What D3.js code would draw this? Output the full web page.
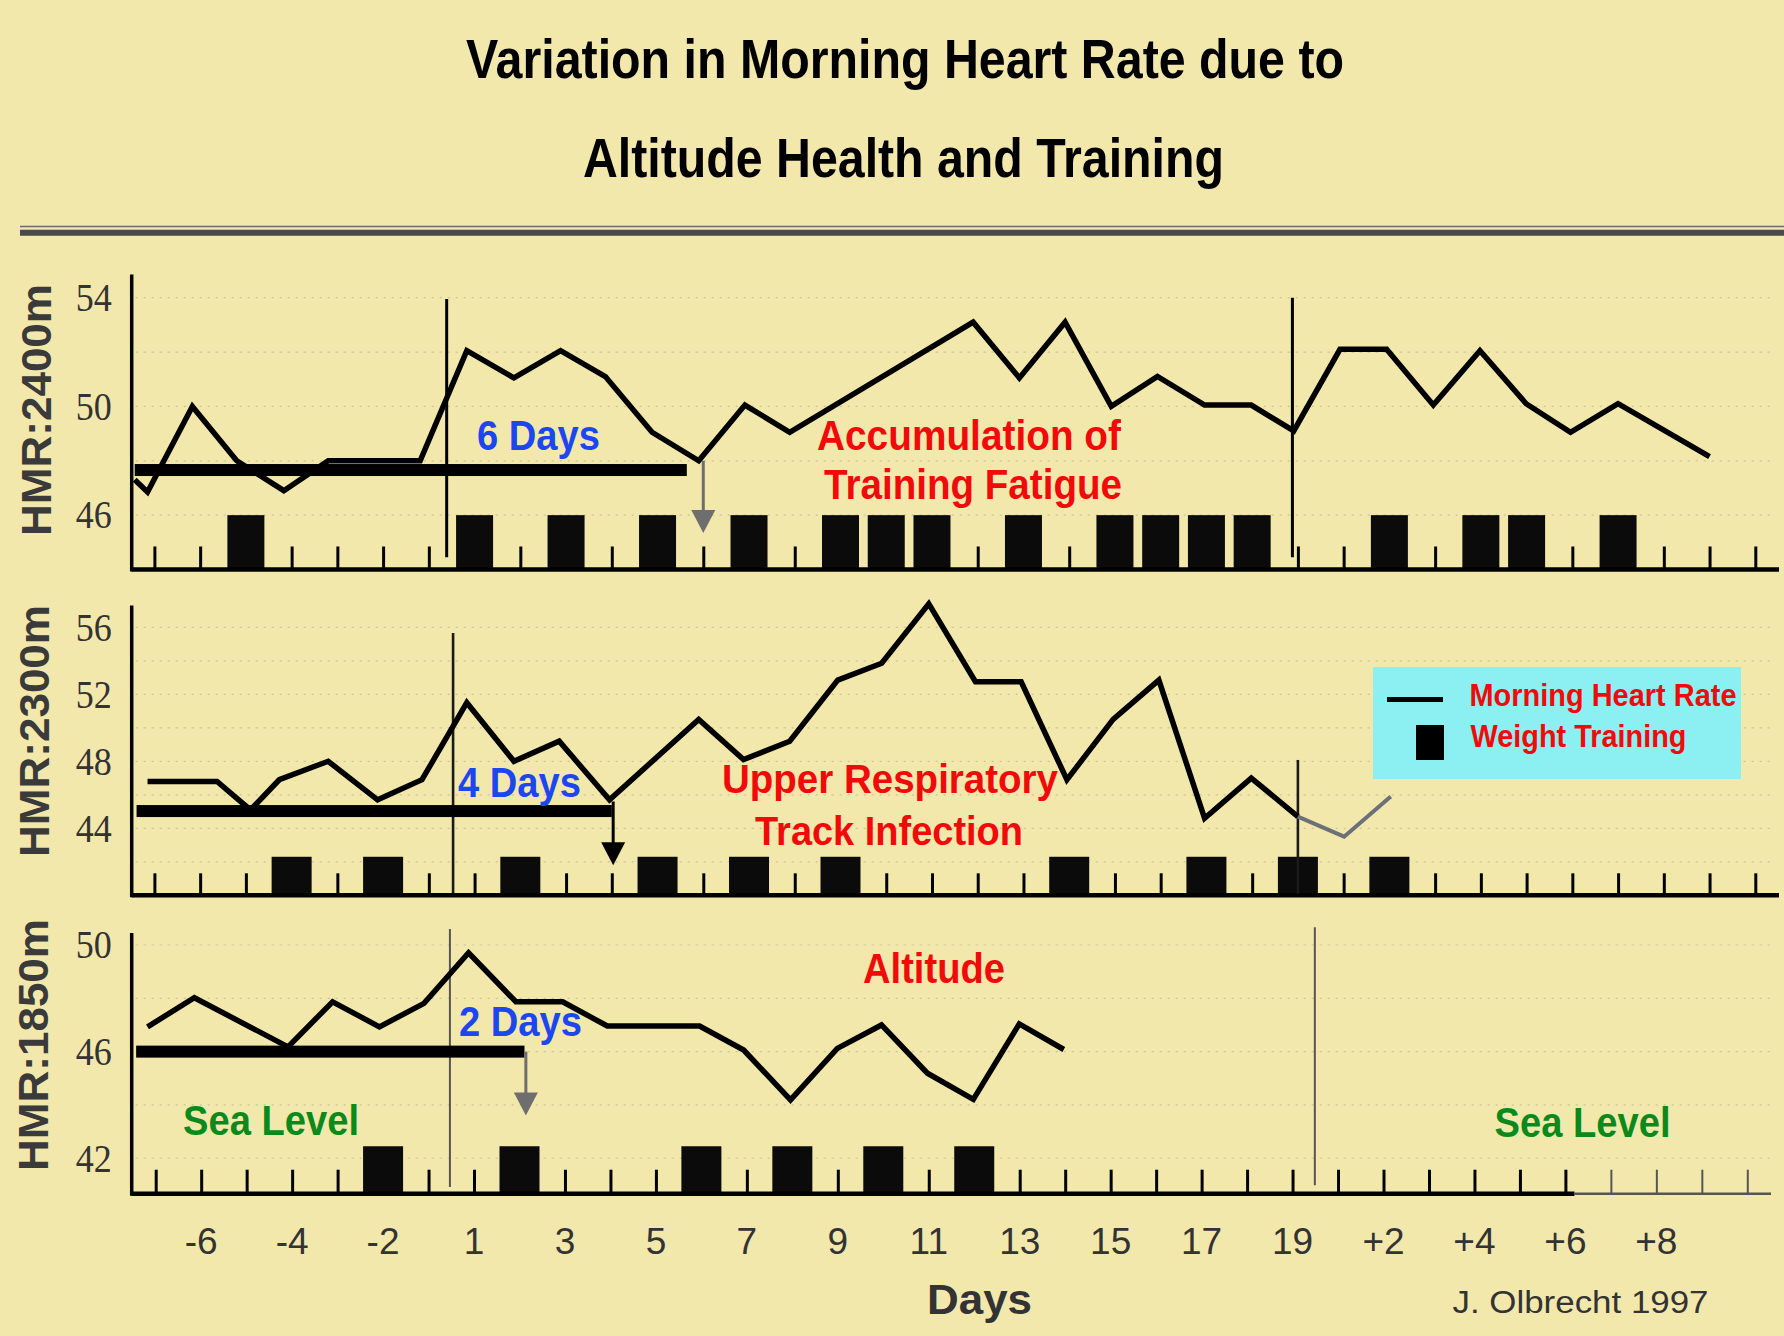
<!DOCTYPE html>
<html>
<head>
<meta charset="utf-8">
<script src="https://cdn.jsdelivr.net/npm/d3@7/dist/d3.min.js"></script>
<style>
html,body{margin:0;padding:0;background:#F2E8AC;}
svg{display:block;}
</style>
</head>
<body>
<svg id="chart" width="1784" height="1336"></svg>
<script>
// ---------------- DATA ----------------
// Day slots along the x axis (one tick per day)
const slotLabels = ["-7","-6","-5","-4","-3","-2","-1",
  "1","2","3","4","5","6","7","8","9","10","11","12","13","14","15","16","17","18","19",
  "+1","+2","+3","+4","+5","+6","+7","+8","+9","+10"];
const shownTickLabels = ["-6","-4","-2","1","3","5","7","9","11","13","15","17","19","+2","+4","+6","+8"];

// Panel 1: HMR at 2400 m (x = day slot position, y = beats/min)
const hmr2400Pos = [-0.43,-0.15,0.83,1.8,2.83,3.8,5.81,6.83,7.86,8.88,9.86,10.88,11.9,12.91,13.89,17.9,18.91,19.91,20.92,21.93,22.96,23.98,24.91,25.92,26.94,27.96,28.98,29.99,30.96,32.0,34.0];
const hmr2400    = [47.3,46.85,50,48,46.9,48,48,52.05,51.05,52.05,51.1,49.05,48,50.05,49.05,53.1,51.05,53.1,50,51.1,50.05,50.05,49.1,52.1,52.1,50.05,52.05,50.1,49.05,50.1,48.15];
const weight2400 = ["-5","1","3","5","7","9","10","11","13","15","16","17","18","+2","+4","+5","+7"];

// Panel 2: HMR at 2300 m
const hmr2300Pos = [-0.15,1.37,2.1,2.73,3.8,4.88,5.85,6.83,7.86,8.85,9.95,11.9,12.88,13.89,14.94,15.9,16.93,17.95,18.95,19.95,20.96,21.96,22.96,23.98,25.0];
const hmr2300    = [46.8,46.8,45.1,46.9,48.0,45.7,46.9,51.5,48.0,49.2,45.7,50.5,48.1,49.2,52.85,53.85,57.4,52.75,52.75,46.9,50.5,52.85,44.6,47.0,44.7];
const hmr2300AfterPos = [25.0,26.01,27.03];
const hmr2300After    = [44.7,43.5,45.9];
const weight2300 = ["-4","-2","2","5","7","9","14","17","19","+2"];

// Panel 3: HMR at 1850 m
const hmr1850Pos = [-0.18,0.85,2.91,3.89,4.92,5.9,6.88,7.92,8.95,9.93,11.96,12.93,13.96,14.99,15.96,16.97,17.98,18.99,19.97];
const hmr1850    = [46.93,48.02,46.18,47.87,46.93,47.81,49.71,47.87,47.87,46.96,46.96,46.06,44.19,46.12,47.0,45.19,44.21,47.04,46.08];
const weight1850 = ["-2","2","6","8","10","12"];

// Sea-level baseline bars: [level, fromSlot, toSlot], arrow: [slot, fromValue, toValue]
const baseline2400 = [47.66,-0.43,11.64], arrow2400 = [12.0,48.0,45.34];
const baseline2300 = [45.03,-0.39,10.0],  arrow2300 = [10.03,45.6,41.8];
const baseline1850 = [46.0,-0.43,8.11],   arrow1850 = [8.14,46.0,43.6];
// Altitude start / end markers: [slot, topValue, bottomValue]
const markers2400 = [[6.39,53.95,44.45],[24.88,54.0,44.45]];
const markers2300 = [[6.53,55.66,40.14],[25.0,48.08,40.1]];
const markers1850 = [[6.47,50.6,40.92],[25.49,50.67,40.99]];

const dayCaptions = ["6 Days","4 Days","2 Days"];

// ---------------- LAYOUT ----------------
const svg = d3.select("#chart");
const SANS = "'Liberation Sans', Arial, Helvetica, sans-serif";
const SERIF = "'Liberation Serif', 'Times New Roman', serif";
const BG = "#F2E8AC";
svg.append("rect").attr("width",1784).attr("height",1336).attr("fill",BG);

// Title
const title = svg.append("g").attr("font-family",SANS).attr("font-weight","bold").attr("font-size",56).attr("fill","#000");
title.append("text").attr("x",466).attr("y",78).attr("textLength",878).attr("lengthAdjust","spacingAndGlyphs")
  .text("Variation in Morning Heart Rate due to");
title.append("text").attr("x",583).attr("y",176.5).attr("textLength",641).attr("lengthAdjust","spacingAndGlyphs")
  .text("Altitude Health and Training");
// double rule under the title
svg.append("line").attr("x1",20).attr("x2",1784).attr("y1",226.5).attr("y2",226.5).attr("stroke","#6a6a66").attr("stroke-width",1.6);
svg.append("line").attr("x1",20).attr("x2",1784).attr("y1",232.8).attr("y2",232.8).attr("stroke","#4a4a48").attr("stroke-width",6);

const panels = [
  {label:"HMR:2400m", pos:hmr2400Pos, vals:hmr2400, weights:weight2400, base:baseline2400, arrow:arrow2400, arrowColor:"#6e6e6e",
   markers:markers2400, markerColor:"#000", markerW:3,
   yDomain:[44,54], yRange:[569.5,297.7], yTop:54.85, yTicks:[46,50,54], grid:[46,48,50,52,54],
   xRange:[154.4,1755.3], barTop:46, barW:37, tickH:23, titleY:410, titleX:51, caption:dayCaptions[0], capX:477, capY:450},
  {label:"HMR:2300m", pos:hmr2300Pos, vals:hmr2300, weights:weight2300, base:baseline2300, arrow:arrow2300, arrowColor:"#000",
   markers:markers2300, markerColor:"#1a1a1a", markerW:2.6,
   yDomain:[40,56], yRange:[895.3,627.3], yTop:57.3, yTicks:[44,48,52,56], grid:[42,44,46,48,50,52,54,56],
   xRange:[154.4,1755.3], barTop:42.3, barW:40, tickH:22, titleY:731, titleX:49, caption:dayCaptions[1], capX:458, capY:797},
  {label:"HMR:1850m", pos:hmr1850Pos, vals:hmr1850, weights:weight1850, base:baseline1850, arrow:arrow1850, arrowColor:"#6e6e6e",
   markers:markers1850, markerColor:"#555", markerW:2,
   yDomain:[40.67,50], yRange:[1193.7,945], yTop:50.45, yTicks:[42,46,50], grid:[42,44,46,48,50],
   xRange:[155.7,1747.3], barTop:42.45, barW:40, tickH:24, titleY:1045, titleX:48, caption:dayCaptions[2], capX:459, capY:1036}
];

const AXIS_X = 131.7, AXIS_END = 1779;
let lastX = null;

panels.forEach((p,pi) => {
  const x = d3.scaleLinear().domain([0, slotLabels.length-1]).range(p.xRange);
  const y = d3.scaleLinear().domain(p.yDomain).range(p.yRange);
  lastX = x;
  const g = svg.append("g");
  const axisY = y(p.yDomain[0]);

  // faint dotted gridlines
  g.selectAll("line.grid").data(p.grid).join("line").attr("class","grid")
    .attr("x1",AXIS_X+4).attr("x2",AXIS_END-8).attr("y1",d=>y(d)).attr("y2",d=>y(d))
    .attr("stroke","#aaa690").attr("stroke-width",1.2).attr("stroke-dasharray","2 6").attr("opacity",0.55);

  // y axis labels
  const yAxis = d3.axisLeft(y).tickValues(p.yTicks).tickSize(0).tickPadding(20).tickFormat(d3.format("d"));
  const ya = g.append("g").attr("transform",`translate(${AXIS_X},0)`).call(yAxis);
  ya.select(".domain").remove();
  ya.selectAll("text").attr("font-family",SERIF).attr("font-size",40).attr("fill","#333")
    .attr("textLength",36).attr("lengthAdjust","spacingAndGlyphs");

  // y axis line
  g.append("line").attr("x1",AXIS_X).attr("x2",AXIS_X).attr("y1",y(p.yTop)).attr("y2",axisY+2)
    .attr("stroke","#000").attr("stroke-width",3.5);

  // y axis title
  g.append("text").attr("transform",`translate(${p.titleX},${p.titleY}) rotate(-90)`)
    .attr("text-anchor","middle").attr("font-family",SANS).attr("font-weight","bold").attr("font-size",42)
    .attr("fill","#3a3a3a").attr("textLength",252).attr("lengthAdjust","spacingAndGlyphs").text(p.label);

  // x ticks (every day)
  const xAxis = d3.axisBottom(x).tickValues(d3.range(slotLabels.length)).tickSize(-p.tickH).tickFormat("");
  const xa = g.append("g").attr("transform",`translate(0,${axisY})`).call(xAxis);
  xa.select(".domain").remove();
  xa.selectAll(".tick line").attr("stroke", (d)=> (pi===2 && d>31) ? "#555" : "#000").attr("stroke-width",(d)=> (pi===2 && d>31) ? 2 : 3);

  // weight training bars
  g.selectAll("rect.wt").data(p.weights).join("rect").attr("class","wt")
    .attr("x",d=>x(slotLabels.indexOf(d))-p.barW/2).attr("width",p.barW)
    .attr("y",y(p.barTop)).attr("height",axisY-y(p.barTop))
    .attr("fill","#0b0b0b");

  // x axis line
  if (pi===2) {
    g.append("line").attr("x1",AXIS_X).attr("x2",x(31.2)).attr("y1",axisY).attr("y2",axisY).attr("stroke","#000").attr("stroke-width",4.5);
    g.append("line").attr("x1",x(31.2)).attr("x2",1771).attr("y1",axisY).attr("y2",axisY).attr("stroke","#555").attr("stroke-width",2.5);
  } else {
    g.append("line").attr("x1",AXIS_X).attr("x2",AXIS_END).attr("y1",axisY).attr("y2",axisY).attr("stroke","#000").attr("stroke-width",4.5);
  }

  // altitude markers
  g.selectAll("line.mk").data(p.markers).join("line").attr("class","mk")
    .attr("x1",d=>x(d[0])).attr("x2",d=>x(d[0])).attr("y1",d=>y(d[1])).attr("y2",d=>y(d[2]))
    .attr("stroke",p.markerColor).attr("stroke-width",p.markerW);

  // sea-level baseline bar
  g.append("rect").attr("x",x(p.base[1])).attr("width",x(p.base[2])-x(p.base[1]))
    .attr("y",y(p.base[0])-6).attr("height",12).attr("fill","#000");

  // arrow
  const ax = x(p.arrow[0]), ay0 = y(p.arrow[1]), ay1 = y(p.arrow[2]);
  g.append("line").attr("x1",ax).attr("x2",ax).attr("y1",ay0).attr("y2",ay1-20)
    .attr("stroke",p.arrowColor).attr("stroke-width",3);
  g.append("path").attr("d",`M${ax-12},${ay1-23}L${ax+12},${ay1-23}L${ax},${ay1}Z`).attr("fill",p.arrowColor);

  // heart rate line
  const line = d3.line().x(d=>x(d[0])).y(d=>y(d[1]));
  g.append("path").datum(d3.zip(p.pos,p.vals)).attr("d",line)
    .attr("fill","none").attr("stroke","#000").attr("stroke-width",5.5).attr("stroke-linejoin","miter").attr("stroke-miterlimit",6);
  if (pi===1) {
    g.append("path").datum(d3.zip(hmr2300AfterPos,hmr2300After)).attr("d",line)
      .attr("fill","none").attr("stroke","#6c7078").attr("stroke-width",4);
  }

  // N Days caption
  g.append("text").attr("x",p.capX).attr("y",p.capY).attr("font-family",SANS).attr("font-weight","bold")
    .attr("font-size",42).attr("fill","#1c46f0").attr("textLength",123).attr("lengthAdjust","spacingAndGlyphs").text(p.caption);
});

// bottom tick labels (use panel 3 scale)
svg.append("g").selectAll("text").data(shownTickLabels).join("text")
  .attr("x",d=>lastX(slotLabels.indexOf(d))).attr("y",1254)
  .attr("text-anchor","middle").attr("font-family",SANS).attr("font-size",37).attr("fill","#333").text(d=>d);

// annotations
function note(txt,x0,yb,len,color,size){
  svg.append("text").attr("x",x0).attr("y",yb).attr("font-family",SANS).attr("font-weight","bold")
    .attr("font-size",size||42).attr("fill",color).attr("textLength",len).attr("lengthAdjust","spacingAndGlyphs").text(txt);
}
const RED = "#f00a0a", GREEN = "#0b8a1c";
note("Accumulation of",817,450,304,RED);
note("Training Fatigue",824,499,298,RED);
note("Upper Respiratory",722,793,336,RED,40);
note("Track Infection",755,845,268,RED,40);
note("Altitude",863,983,142,RED);
note("Sea Level",183,1135,176,GREEN);
note("Sea Level",1494.5,1136.5,176,GREEN);

// legend
svg.append("rect").attr("x",1373).attr("y",667).attr("width",368).attr("height",112).attr("fill","#8cf0f2");
svg.append("line").attr("x1",1387).attr("x2",1443).attr("y1",699.5).attr("y2",699.5).attr("stroke","#000").attr("stroke-width",5);
svg.append("rect").attr("x",1416).attr("y",725).attr("width",28).attr("height",35).attr("fill","#000");
note("Morning Heart Rate",1469.5,706,267,RED,32);
note("Weight Training",1470.5,747,216,RED,32);

// x title & credit
svg.append("text").attr("x",927).attr("y",1314).attr("font-family",SANS).attr("font-weight","bold").attr("font-size",43)
  .attr("fill","#333").attr("textLength",105).attr("lengthAdjust","spacingAndGlyphs").text("Days");
svg.append("text").attr("x",1452.5).attr("y",1312.5).attr("font-family",SANS).attr("font-size",31)
  .attr("fill","#333").attr("textLength",256).attr("lengthAdjust","spacingAndGlyphs").text("J. Olbrecht 1997");
</script>
</body>
</html>
